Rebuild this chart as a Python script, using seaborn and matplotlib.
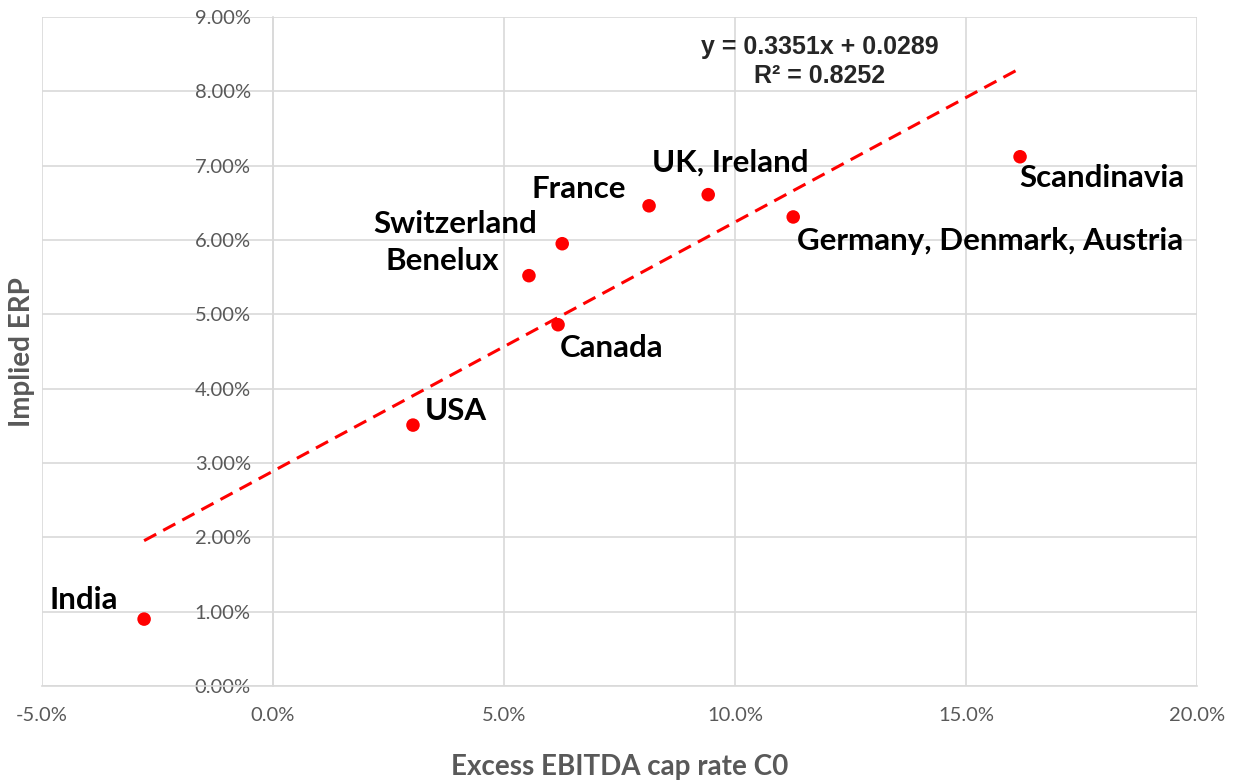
import matplotlib
matplotlib.use("Agg")
import matplotlib.pyplot as plt
import numpy as np
import pandas as pd
import seaborn as sns
from matplotlib.ticker import FuncFormatter, MultipleLocator

# data (fractions)
regions = ["India", "USA", "Benelux", "Switzerland", "France", "UK, Ireland",
           "Germany, Denmark, Austria", "Canada", "Scandinavia"]
cap_rate = [-0.0279, 0.0303, 0.0554, 0.0626, 0.0814, 0.0942, 0.1126, 0.0617, 0.1617]
erp = [0.0090, 0.0351, 0.0552, 0.0595, 0.0646, 0.0661, 0.0631, 0.0486, 0.0712]

# label placement: (dx px, dy px, ha)
label_offsets = {
    "India": (-26, 19, "right"),
    "USA": (12, 14, "left"),
    "Benelux": (-30, 15, "right"),
    "Switzerland": (-25, 20, "right"),
    "France": (-23, 17, "right"),
    "UK, Ireland": (22, 32, "center"),
    "Germany, Denmark, Austria": (4, -24, "left"),
    "Canada": (2, -23, "left"),
    "Scandinavia": (-1, -21, "left"),
}

slope, intercept, r2 = 0.3351, 0.0289, 0.8252

df = pd.DataFrame({"region": regions, "cap": cap_rate, "erp": erp})

sns.set_theme(style="white")
plt.rcParams["font.family"] = ["Lato", "DejaVu Sans"]

fig = plt.figure(figsize=(12.33, 7.81), dpi=100)
ax = fig.add_axes([42 / 1233, 1 - 686 / 781, 1155 / 1233, 669 / 781])

grid_c = "#d9d9d9"
ax.set_xlim(-0.05, 0.20)
ax.set_ylim(0, 0.09)
ax.xaxis.set_major_locator(MultipleLocator(0.05))
ax.yaxis.set_major_locator(MultipleLocator(0.01))
ax.grid(True, color=grid_c, linewidth=1.2)
ax.set_axisbelow(True)

# trendline
trend = pd.DataFrame({"x": [min(cap_rate), max(cap_rate)]})
trend["y"] = slope * trend["x"] + intercept
sns.lineplot(data=trend, x="x", y="y", ax=ax, color="#ff0000", linewidth=2.2,
             dashes=False, linestyle=(0, (4.5, 2.6)))

sns.scatterplot(data=df, x="cap", y="erp", ax=ax, color="#ff0000", s=95,
                edgecolor="none", zorder=3)

for name, x, y in zip(regions, cap_rate, erp):
    dx, dy, ha = label_offsets[name]
    ax.annotate(name, (x, y), xytext=(dx, dy), textcoords="offset pixels",
                ha=ha, va="center", fontsize=22.5, fontweight="bold", color="black")

ax.text(0.1184, 0.0859, f"y = {slope}x + {intercept}", ha="center", va="center",
        fontsize=18, fontweight="bold", family=["Liberation Sans"])
ax.text(0.1184, 0.0820, f"R² = {r2}", ha="center", va="center",
        fontsize=18, fontweight="bold", family=["Liberation Sans"])

# spines: y axis crosses at x = 0
for s in ["top", "right"]:
    ax.spines[s].set_visible(False)
ax.spines["left"].set_position(("data", 0))
ax.spines["left"].set_color(grid_c)
ax.spines["bottom"].set_color(grid_c)
ax.spines["left"].set_linewidth(1.2)
ax.spines["bottom"].set_linewidth(1.2)

ax.xaxis.set_major_formatter(FuncFormatter(lambda v, p: f"{v * 100:.1f}%"))
ax.yaxis.set_major_formatter(FuncFormatter(lambda v, p: f"{v * 100:.2f}%"))
ax.tick_params(axis="both", length=0, labelsize=14.5, labelcolor="#595959")
ax.tick_params(axis="x", pad=15)
ax.tick_params(axis="y", pad=16)

ax.set_xlabel("")
ax.set_ylabel("")
fig.text(620 / 1233, 1 - 767 / 781, "Excess EBITDA cap rate C0", ha="center", va="center",
         fontsize=20, fontweight="bold", color="#595959")
fig.text(22 / 1233, 1 - 352 / 781, "Implied ERP", ha="center", va="center", rotation=90,
         fontsize=20, fontweight="bold", color="#595959")

fig.savefig("out.png", dpi=100)
